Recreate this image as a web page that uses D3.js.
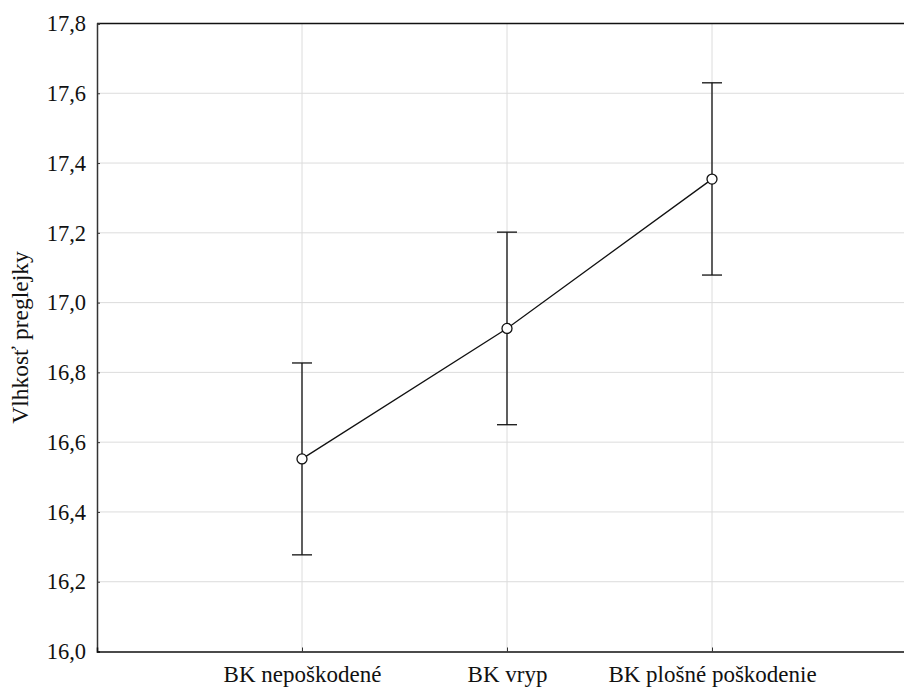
<!DOCTYPE html>
<html>
<head>
<meta charset="utf-8">
<script src="https://cdn.jsdelivr.net/npm/d3@7"></script>
<style>
body { margin: 0; background: #fff; }
svg { display: block; }
</style>
</head>
<body>
<script>
var categories = ["BK nepoškodené", "BK vryp", "BK plošné poškodenie"];
var means = [16.552, 16.926, 17.354];
var lower = [16.277, 16.650, 17.079];
var upper = [16.827, 17.202, 17.630];
var yTicks = [16.0, 16.2, 16.4, 16.6, 16.8, 17.0, 17.2, 17.4, 17.6, 17.8];

var fontFam = "'Liberation Serif'";
var w = 904, h = 689;
var plotLeft = 97, plotTop = 23.5, plotRight = 917, plotBottom = 651.5;

var svg = d3.select("body").append("svg")
  .attr("width", w)
  .attr("height", h);

var x = d3.scalePoint().domain(categories).range([plotLeft, plotRight]).padding(1);
var y = d3.scaleLinear().domain([16.0, 17.8]).range([plotBottom, plotTop]);

var fmt = function(d) { return d3.format(".1f")(d).replace(".", ","); };

// grid
svg.append("g").selectAll("line")
  .data(yTicks.slice(1, -1))
  .enter().append("line")
  .attr("x1", plotLeft).attr("x2", plotRight)
  .attr("y1", function(d) { return y(d); })
  .attr("y2", function(d) { return y(d); })
  .attr("stroke", "#dcdcdc").attr("stroke-width", 1);

svg.append("g").selectAll("line")
  .data(categories)
  .enter().append("line")
  .attr("x1", function(d) { return x(d); })
  .attr("x2", function(d) { return x(d); })
  .attr("y1", plotTop).attr("y2", plotBottom)
  .attr("stroke", "#dcdcdc").attr("stroke-width", 1);

// frame top
svg.append("line").attr("x1", plotLeft).attr("x2", plotRight).attr("y1", plotTop).attr("y2", plotTop)
  .attr("stroke", "#111").attr("stroke-width", 1.5);

// y axis
var yAxis = d3.axisLeft(y).tickValues(yTicks).tickFormat(fmt).tickSize(-3).tickPadding(11);
var gy = svg.append("g").attr("transform", "translate(" + plotLeft + ",0)").call(yAxis);
gy.select(".domain").attr("stroke", "#333").attr("stroke-width", 1.5);
gy.selectAll(".tick line").attr("stroke", "#333");
gy.selectAll(".tick text").attr("fill", "#111")
  .style("font-family", fontFam).style("font-size", "22.5px");

// x axis
var xAxis = d3.axisBottom(x).tickSize(-4).tickPadding(14);
var gx = svg.append("g").attr("transform", "translate(0," + plotBottom + ")").call(xAxis);
gx.select(".domain").attr("stroke", "#111").attr("stroke-width", 1.5);
gx.selectAll(".tick line").attr("stroke", "#333");
gx.selectAll(".tick text").attr("fill", "#111")
  .style("font-family", fontFam).style("font-size", "23px");

// y title
svg.append("text")
  .attr("transform", "translate(28," + ((plotTop + plotBottom) / 2) + ") rotate(-90)")
  .attr("text-anchor", "middle")
  .style("font-family", fontFam).style("font-size", "23.5px")
  .attr("fill", "#111")
  .text("Vlhkosť preglejky");

var rows = categories.map(function(c, i) {
  return { cat: c, m: means[i], lo: lower[i], hi: upper[i] };
});

// error bars
var eb = svg.append("g").selectAll("g").data(rows).enter().append("g");
eb.append("line")
  .attr("x1", function(d) { return x(d.cat); })
  .attr("x2", function(d) { return x(d.cat); })
  .attr("y1", function(d) { return y(d.lo); })
  .attr("y2", function(d) { return y(d.hi); })
  .attr("stroke", "#111").attr("stroke-width", 1.3);
eb.append("line")
  .attr("x1", function(d) { return x(d.cat) - 10; })
  .attr("x2", function(d) { return x(d.cat) + 10; })
  .attr("y1", function(d) { return y(d.hi); })
  .attr("y2", function(d) { return y(d.hi); })
  .attr("stroke", "#111").attr("stroke-width", 1.3);
eb.append("line")
  .attr("x1", function(d) { return x(d.cat) - 10; })
  .attr("x2", function(d) { return x(d.cat) + 10; })
  .attr("y1", function(d) { return y(d.lo); })
  .attr("y2", function(d) { return y(d.lo); })
  .attr("stroke", "#111").attr("stroke-width", 1.3);

// mean line
var line = d3.line()
  .x(function(d) { return x(d.cat); })
  .y(function(d) { return y(d.m); });
svg.append("path").datum(rows)
  .attr("d", line)
  .attr("fill", "none").attr("stroke", "#111").attr("stroke-width", 1.3);

svg.append("g").selectAll("circle").data(rows).enter().append("circle")
  .attr("cx", function(d) { return x(d.cat); })
  .attr("cy", function(d) { return y(d.m); })
  .attr("r", 5)
  .attr("fill", "#fff").attr("stroke", "#111").attr("stroke-width", 1.3);
</script>
</body>
</html>
